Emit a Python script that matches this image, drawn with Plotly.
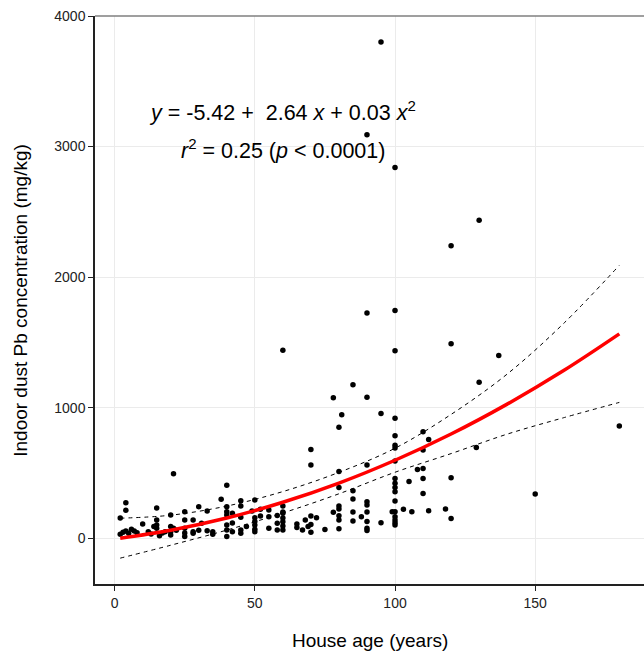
import plotly.graph_objects as go

# ---- scatter data (house age in years, indoor dust Pb in mg/kg) ----
house_age = [2, 2, 3, 4, 4, 4, 5, 6, 7, 8,
             10, 12, 13, 14, 15, 15, 15, 15, 16, 17,
             18, 20, 20, 20, 20, 21, 21, 22, 25, 25,
             25, 25, 25, 28, 28, 28, 30, 30, 31, 33,
             33, 35, 35, 38, 40, 40, 40, 40, 40, 40,
             40, 42, 42, 42, 45, 45, 45, 45, 45, 47,
             49, 50, 50, 50, 50, 50, 50, 52, 52, 55,
             55, 55, 58, 58, 58, 60, 60, 60, 60, 60,
             60, 60, 60, 65, 65, 67, 68, 69, 70, 70,
             70, 70, 70, 72, 75, 78, 78, 80, 80, 80,
             80, 80, 80, 80, 80, 81, 85, 85, 85, 85,
             85, 88, 90, 90, 90, 90, 90, 90, 90, 90,
             90, 90, 95, 95, 95, 99, 100, 100, 100, 100,
             100, 100, 100, 100, 100, 100, 100, 100, 100, 100,
             100, 100, 100, 100, 103, 105, 106, 108, 110, 110,
             110, 110, 110, 112, 112, 118, 120, 120, 120, 120,
             129, 130, 130, 137, 150, 180]
pb_conc = [155, 30, 45, 272, 214, 55, 38, 68, 55, 42,
           109, 50, 32, 89, 232, 140, 101, 76, 18, 40,
           50, 178, 89, 50, 25, 494, 76, 60, 203, 140,
           76, 12, 40, 140, 50, 38, 241, 60, 114, 208,
           57, 50, 30, 298, 405, 241, 203, 178, 63, 12,
           100, 191, 117, 50, 287, 247, 160, 63, 38, 89,
           208, 292, 157, 127, 101, 69, 50, 221, 170, 165,
           76, 216, 173, 114, 63, 1440, 247, 201, 191, 155,
           125, 94, 63, 109, 81, 63, 140, 89, 680, 560,
           170, 104, 46, 157, 66, 1075, 198, 850, 510, 389,
           247, 224, 172, 140, 73, 945, 1175, 363, 300, 201,
           132, 165, 3090, 1725, 1080, 560, 279, 254, 201, 127,
           76, 58, 3800, 955, 119, 203, 2840, 1745, 1435, 918,
           785, 712, 690, 592, 458, 420, 389, 356, 285, 203,
           165, 140, 119, 101, 221, 435, 203, 527, 815, 676,
           534, 458, 343, 755, 211, 224, 2240, 1490, 463, 150,
           695, 2435, 1195, 1400, 338, 860]

# ---- fitted quadratic curve and its confidence band ----
fit_age = [2, 20, 40, 60, 80, 100, 120, 140, 160, 180]
fit_pb = [0, 61, 154, 275, 422, 597, 798, 1027, 1282, 1565]
band_upper = [153, 176, 246, 357, 504, 689, 948, 1257, 1642, 2090]
band_lower = [-153, -54, 62, 193, 340, 505, 648, 797, 922, 1040]

x_ticks = [0, 50, 100, 150]
y_ticks = [0, 1000, 2000, 3000, 4000]

x_title = "House age (years)"
y_title = "Indoor dust Pb concentration (mg/kg)"
eq_line = "<i>y</i> = -5.42 +  2.64 <i>x</i> + 0.03 <i>x</i><sup>2</sup>"
r2_line = "<i>r</i><sup>2</sup> = 0.25 (<i>p</i> < 0.0001)"

FONT = "Liberation Sans, Arial, Helvetica, sans-serif"

fig = go.Figure()
fig.add_trace(go.Scatter(x=house_age, y=pb_conc, mode="markers",
                         marker=dict(color="black", size=5.5),
                         showlegend=False, hoverinfo="x+y"))
fig.add_trace(go.Scatter(x=fit_age, y=band_upper, mode="lines",
                         line=dict(color="black", width=1, dash="4px,4px", shape="spline"),
                         showlegend=False))
fig.add_trace(go.Scatter(x=fit_age, y=band_lower, mode="lines",
                         line=dict(color="black", width=1, dash="4px,4px", shape="spline"),
                         showlegend=False))
fig.add_trace(go.Scatter(x=fit_age, y=fit_pb, mode="lines",
                         line=dict(color="#ff0000", width=3.5, shape="spline"),
                         showlegend=False))

fig.add_annotation(x=60, y=3269, text=eq_line, showarrow=False,
                   font=dict(family=FONT, size=21.5, color="black"),
                   xanchor="center", yanchor="middle")
fig.add_annotation(x=60, y=2979, text=r2_line, showarrow=False,
                   font=dict(family=FONT, size=21.5, color="black"),
                   xanchor="center", yanchor="middle")

# axis titles as paper annotations
fig.add_annotation(xref="paper", yref="paper", x=0.5, y=-0.099, text=x_title,
                   showarrow=False, font=dict(family=FONT, size=19, color="black"),
                   xanchor="center", yanchor="middle")
fig.add_annotation(xref="paper", yref="paper", x=-0.137, y=0.5, text=y_title,
                   showarrow=False, textangle=-90,
                   font=dict(family=FONT, size=19, color="black"),
                   xanchor="center", yanchor="middle")

# top border (gray)
fig.add_shape(type="line", xref="paper", yref="paper", x0=0, x1=1, y0=1, y1=1,
              line=dict(color="#7f7f7f", width=1.5))

fig.update_layout(
    width=644, height=653,
    margin=dict(l=95, r=0, t=16, b=69, autoexpand=False),
    paper_bgcolor="white", plot_bgcolor="white",
    font=dict(family=FONT, color="black"),
    xaxis=dict(range=[-7, 188.8], tickvals=x_ticks, ticktext=[str(v) for v in x_ticks],
               showgrid=True, gridcolor="#ebebeb", gridwidth=1, zeroline=False,
               showline=True, linecolor="#222222", linewidth=1.5, automargin=False,
               ticks="outside", ticklen=5, tickcolor="#222222", tickwidth=1,
               tickfont=dict(size=14, color="#222222")),
    yaxis=dict(range=[-351, 4000], tickvals=y_ticks, ticktext=[str(v) for v in y_ticks],
               showgrid=True, gridcolor="#ebebeb", gridwidth=1, zeroline=False,
               showline=True, linecolor="#222222", linewidth=1.5, automargin=False,
               ticks="outside", ticklen=5, tickcolor="#222222", tickwidth=1,
               tickfont=dict(size=14, color="#222222")),
)

fig.write_html("out.html", config={"displayModeBar": False},
               post_script="document.body.style.margin='0px';document.body.style.overflow='hidden';")
